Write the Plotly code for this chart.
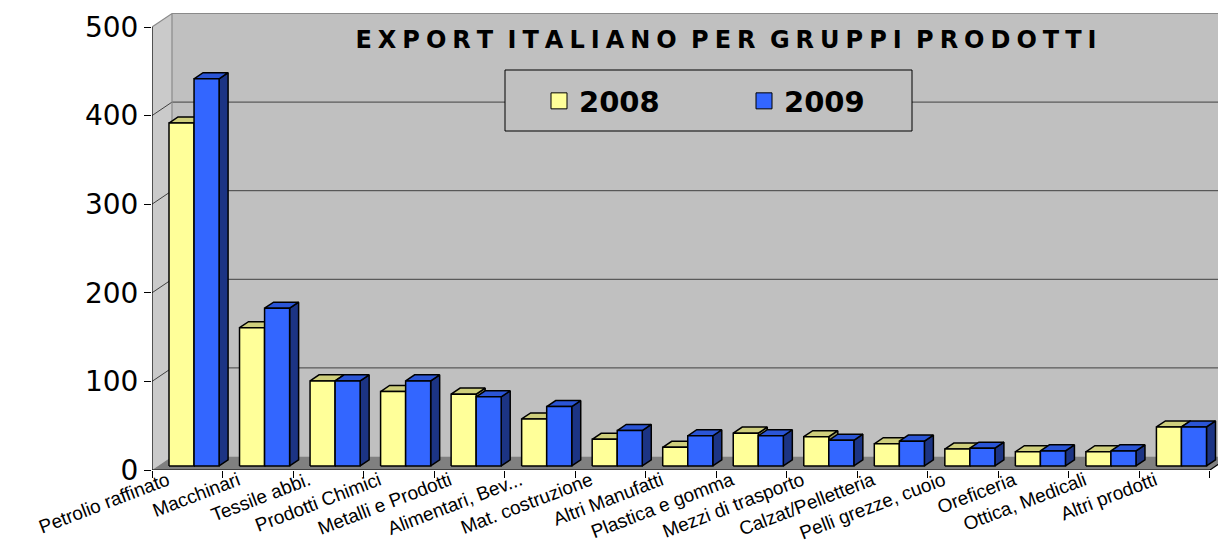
import plotly.graph_objects as go

# ---------------- data ----------------
categories = ["Petrolio raffinato", "Macchinari", "Tessile abbi.", "Prodotti Chimici",
              "Metalli e Prodotti", "Alimentari, Bev...", "Mat. costruzione", "Altri Manufatti",
              "Plastica e gomma", "Mezzi di trasporto", "Calzat/Pelletteria", "Pelli grezze, cuoio",
              "Oreficeria", "Ottica, Medicali", "Altri prodotti"]
values_2008 = [387, 156, 96, 84, 81, 53, 30, 21, 37, 33, 25, 19, 16, 16, 44]
values_2009 = [437, 178, 96, 96, 78, 67, 40, 34, 34, 29, 28, 20, 17, 17, 44]
series_names = ["2008", "2009"]
y_tick_values = [0, 100, 200, 300, 400, 500]
title_text = "EXPORT ITALIANO PER GRUPPI PRODOTTI"

# ---------------- geometry / style ----------------
W, H = 1218, 543
ML, MR, MT, MB = 152, 0, 10, 73
PX_CAT = 70.53                      # pixels per category
N = len(categories)
YMAX_TICK = y_tick_values[-1]
PX_VAL = (H - MB - 27) / YMAX_TICK  # pixels per value unit
x_range = [0, (W - ML - MR) / PX_CAT]
y_range = [0, (H - MT - MB) / PX_VAL]

DX = 20 / PX_CAT        # wall depth (x units)
DY = 13.5 / PX_VAL      # wall depth (value units)
F0 = 0.3                # bar front plane position in depth
FD = 0.45               # bar depth fraction
GAP = 0.156             # left gap inside category
BW = 0.355              # bar width (category units)

face_colors = {
    "2008": {"front": "#FFFF99", "top": "#CFCF7C", "side": "#99995C"},
    "2009": {"front": "#3366FF", "top": "#2B55D6", "side": "#1C3484"},
}

fig = go.Figure()

# 3D bars built from values
series_values = [values_2008, values_2009]
for s, (name, vals) in enumerate(zip(series_names, series_values)):
    fx, fy, tx, ty, sx, sy = [], [], [], [], [], []
    ddx, ddy = FD * DX, FD * DY
    for i, v in enumerate(vals):
        xl = i + F0 * DX + GAP + s * BW
        xr = xl + BW
        yb = F0 * DY
        yt = yb + v
        fx += [xl, xr, xr, xl, xl, None]
        fy += [yb, yb, yt, yt, yb, None]
        tx += [xl, xr, xr + ddx, xl + ddx, xl, None]
        ty += [yt, yt, yt + ddy, yt + ddy, yt, None]
        sx += [xr, xr + ddx, xr + ddx, xr, xr, None]
        sy += [yb, yb + ddy, yt + ddy, yt, yb, None]
    c = face_colors[name]
    for xs, ys, col in ((sx, sy, c["side"]), (tx, ty, c["top"]), (fx, fy, c["front"])):
        fig.add_trace(go.Scatter(x=xs, y=ys, mode="lines", fill="toself", fillcolor=col,
                                 line=dict(color="black", width=1.5), hoverinfo="skip",
                                 showlegend=False))

# legend entries
for name in series_names:
    fig.add_trace(go.Scatter(x=[None], y=[None], mode="markers", name=name,
                             marker=dict(symbol="square", size=16,
                                         color=face_colors[name]["front"],
                                         line=dict(color="black", width=1))))

# walls, floor, gridlines
xr_far = N + DX + 1
shapes = []
def path(pts):
    return "M " + " L ".join(f"{x},{y}" for x, y in pts) + " Z"

shapes.append(dict(type="path", xref="x", yref="y", layer="below",
                   path=path([(0, 0), (DX, DY), (DX, YMAX_TICK + DY), (0, YMAX_TICK)]),
                   fillcolor="#CACACA", line=dict(width=0)))
shapes.append(dict(type="path", xref="x", yref="y", layer="below",
                   path=path([(DX, DY), (xr_far, DY), (xr_far, YMAX_TICK + DY), (DX, YMAX_TICK + DY)]),
                   fillcolor="#C0C0C0", line=dict(width=0)))
shapes.append(dict(type="path", xref="x", yref="y", layer="below",
                   path=path([(0, 0), (N, 0), (N + DX, DY), (DX, DY)]),
                   fillcolor="#808080", line=dict(width=0)))
for v in y_tick_values[1:-1]:
    shapes.append(dict(type="path", xref="x", yref="y", layer="below",
                       path=f"M 0,{v} L {DX},{v + DY} L {xr_far},{v + DY}",
                       line=dict(color="#404040", width=1)))
# wall edges
shapes.append(dict(type="path", xref="x", yref="y", layer="below",
                   path=f"M {DX},{DY} L {DX},{YMAX_TICK + DY} M 0,{YMAX_TICK} L {DX},{YMAX_TICK + DY} L {xr_far},{YMAX_TICK + DY}",
                   line=dict(color="#8A8A8A", width=1.2)))
# front axes
shapes.append(dict(type="path", xref="x", yref="y", layer="below",
                   path=f"M 0,{YMAX_TICK} L 0,0 L {N},0 L {N + DX},{DY}",
                   line=dict(color="black", width=1.2)))
# legend box
shapes.append(dict(type="rect", xref="paper", yref="paper", layer="above",
                   x0=(505 - ML) / (W - ML - MR), x1=(912 - ML) / (W - ML - MR),
                   y0=(H - MB - 131) / (H - MT - MB), y1=(H - MB - 70) / (H - MT - MB),
                   fillcolor="#C0C0C0", line=dict(color="black", width=1)))

spaced_title = "\u00a0\u2005".join("\u2005".join(w) for w in title_text.split(" "))

fig.update_layout(
    width=W, height=H,
    margin=dict(l=ML, r=MR, t=MT, b=MB),
    paper_bgcolor="white", plot_bgcolor="white",
    shapes=shapes,
    title=dict(text=spaced_title, x=726 / W, xanchor="center", xref="container",
               y=1 - 40 / H, yanchor="middle", yref="container", automargin=False,
               font=dict(family="DejaVu Sans", size=24, color="black", weight="bold")),
    showlegend=True,
    legend=dict(orientation="h", x=(539 - ML) / (W - ML - MR), xanchor="left",
                y=(H - MB - 101) / (H - MT - MB), yanchor="middle",
                bgcolor="rgba(0,0,0,0)", borderwidth=0,
                entrywidth=160, entrywidthmode="pixels",
                font=dict(family="DejaVu Sans", size=29, color="black", weight="bold")),
    xaxis=dict(range=x_range, showgrid=False, zeroline=False, showline=False,
               automargin=False,
               tickmode="array", tickvals=[i + 0.5 - 0.28 for i in range(N)],
               ticktext=categories, ticks="", tickangle=-21, ticklabelstandoff=-5,
               tickfont=dict(family="Liberation Sans", size=19, color="black"),
               minor=dict(tickmode="array", tickvals=list(range(N + 1)), ticks="outside",
                          ticklen=7, tickcolor="black", tickwidth=1, showgrid=False),
               fixedrange=True),
    yaxis=dict(range=y_range, showgrid=False, zeroline=False, showline=False,
               automargin=False,
               tickmode="array", tickvals=y_tick_values, ticks="outside",
               ticklen=7, tickcolor="black",
               tickfont=dict(family="DejaVu Sans", size=28, color="black"),
               fixedrange=True),
)

fig.write_html("out.html")
